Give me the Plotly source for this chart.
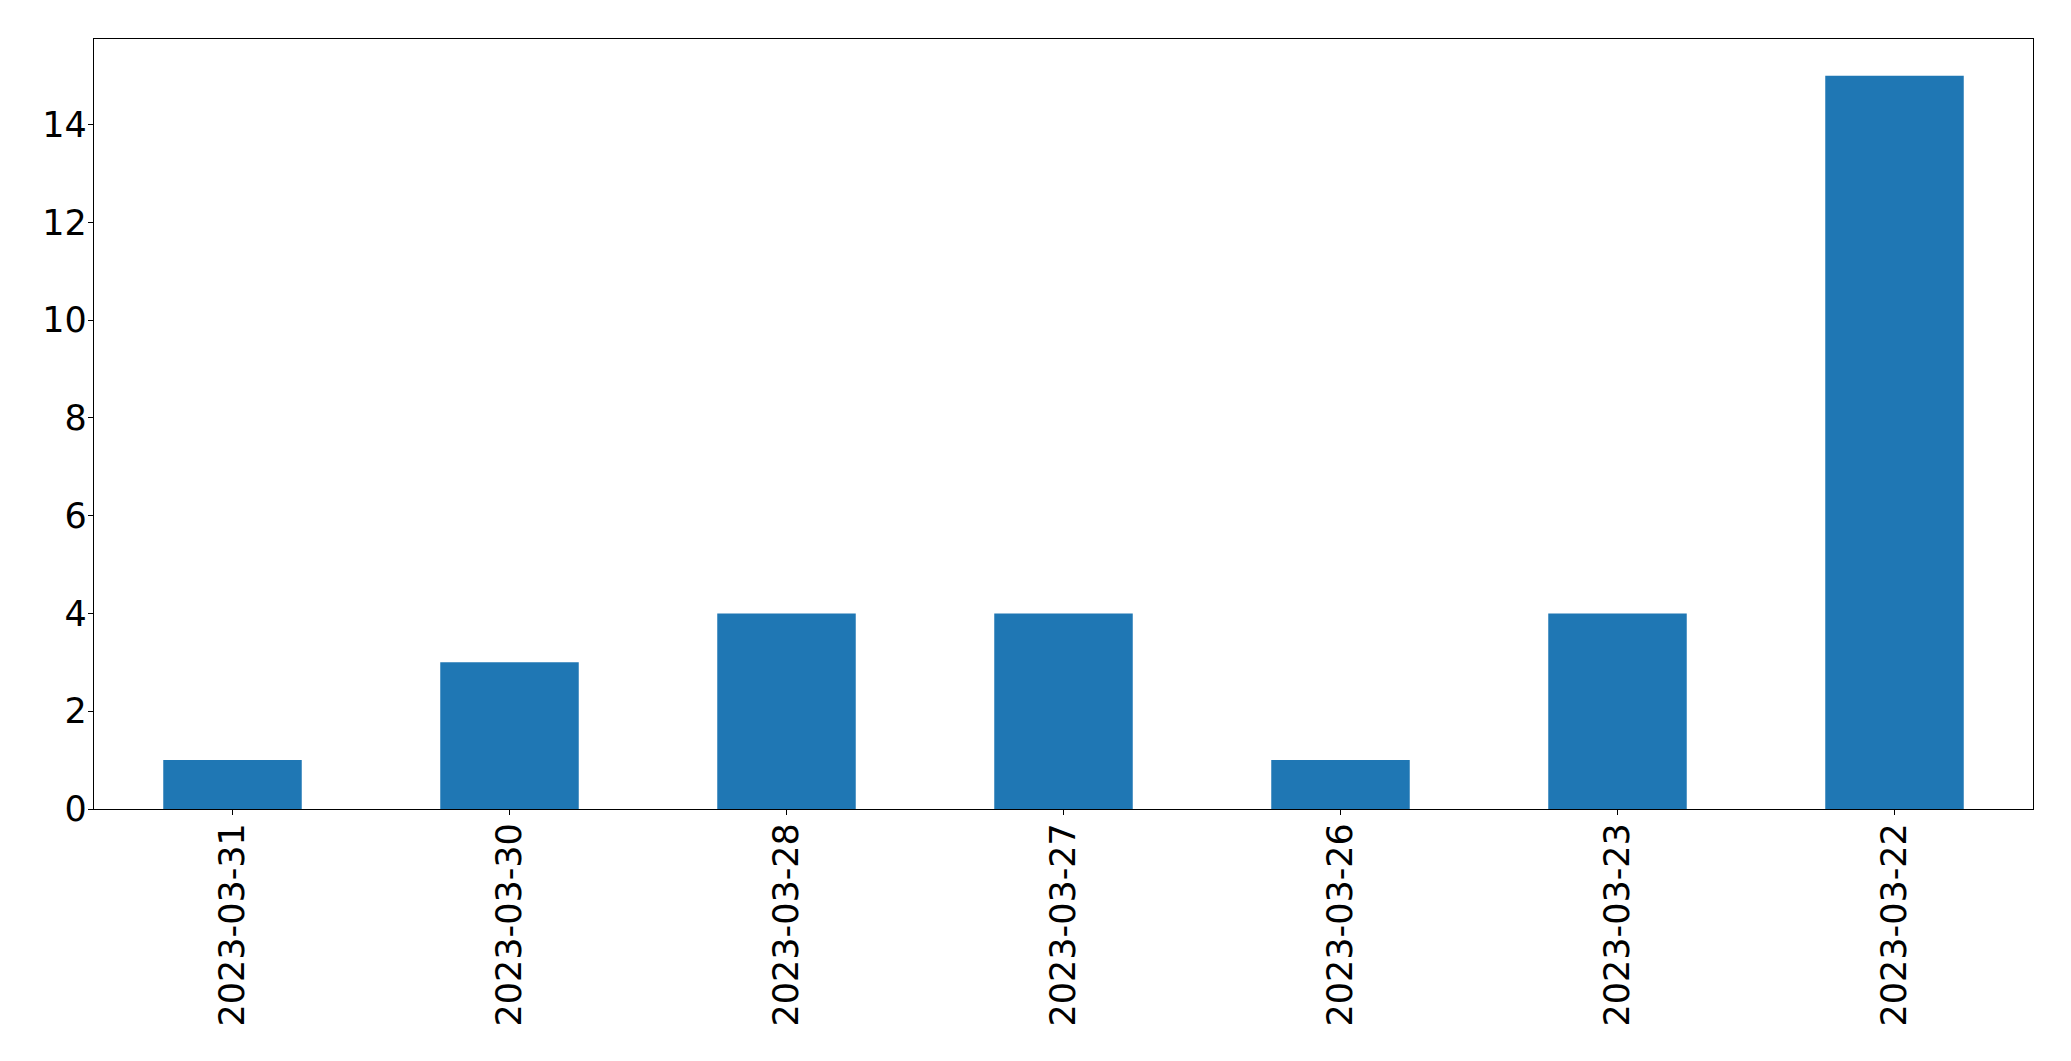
import plotly.graph_objects as go

dates = ["2023-03-31", "2023-03-30", "2023-03-28", "2023-03-27", "2023-03-26", "2023-03-23", "2023-03-22"]
counts = [1, 3, 4, 4, 1, 4, 15]
y_ticks = [0, 2, 4, 6, 8, 10, 12, 14]

fig = go.Figure(go.Bar(x=dates, y=counts, marker=dict(color="#1f77b4", line=dict(width=0)), width=0.5))

font = dict(family="DejaVu Sans", size=35, color="black")
fig.update_layout(
    width=2063, height=1053,
    margin=dict(l=86, r=38, t=31, b=252, pad=0),
    plot_bgcolor="white", paper_bgcolor="white",
    showlegend=False,
    font=font,
)
fig.update_xaxes(type="category", range=[-0.5, 6.5], showline=True, linecolor="black", linewidth=1.3,
                 mirror=True, ticks="outside", ticklen=5, tickcolor="black", tickwidth=1.3,
                 tickangle=-90, tickfont=font, showgrid=False, zeroline=False, ticklabelstandoff=-6)
fig.update_yaxes(range=[0, 15.75], tickvals=y_ticks, showline=True, linecolor="black", linewidth=1.3,
                 mirror=True, ticks="outside", ticklen=5, tickcolor="black", tickwidth=1.3,
                 tickfont=font, showgrid=False, zeroline=False, ticklabelstandoff=-6)
fig.write_html("out.html")
